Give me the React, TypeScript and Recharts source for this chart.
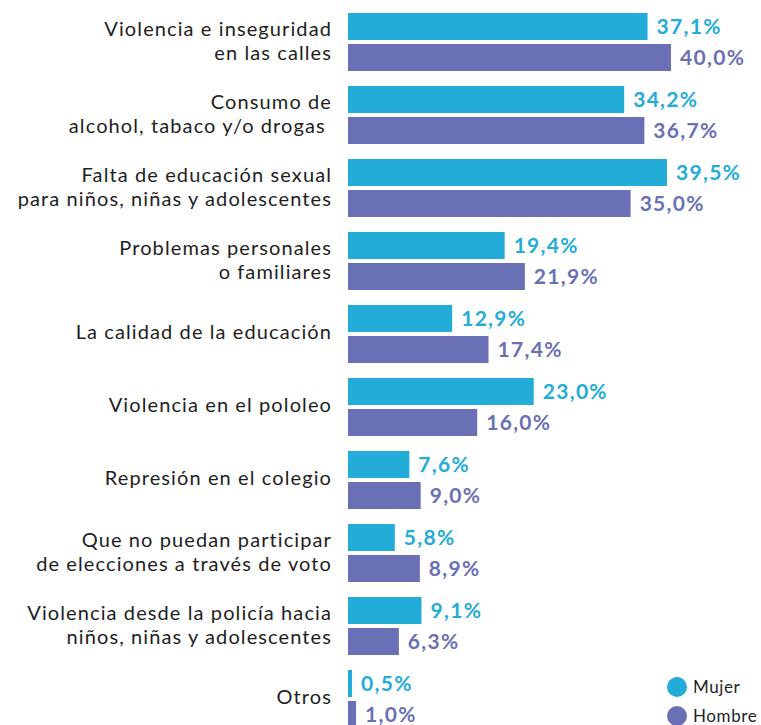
import React from 'react';
import { BarChart, Bar, XAxis, YAxis, LabelList } from 'recharts';

const categories: string[] = [
  'Violencia e inseguridad\nen las calles',
  'Consumo de\nalcohol, tabaco y/o drogas ',
  'Falta de educación sexual\npara niños, niñas y adolescentes',
  'Problemas personales\no familiares',
  'La calidad de la educación',
  'Violencia en el pololeo',
  'Represión en el colegio',
  'Que no puedan participar\nde elecciones a través de voto',
  'Violencia desde la policía hacia\nniños, niñas y adolescentes',
  'Otros',
];

const mujer: number[] = [37.1, 34.2, 39.5, 19.4, 12.9, 23.0, 7.6, 5.8, 9.1, 0.5];
const hombre: number[] = [40.0, 36.7, 35.0, 21.9, 17.4, 16.0, 9.0, 8.9, 6.3, 1.0];

const seriesNames = ['Mujer', 'Hombre'];
const COLOR_MUJER = '#23ACD7';
const COLOR_HOMBRE = '#6A70B5';
const FONT = 'Lato, "Open Sans", sans-serif';

const data = categories.map((name, i) => ({ name, mujer: mujer[i], hombre: hombre[i] }));

const fmt = (v: any) => `${Number(v).toFixed(1).replace('.', ',')}%`;

const CategoryTick = (props: any) => {
  const { y, payload } = props;
  const lines = String(payload.value).split('\n');
  const x = 332;
  const common = {
    textAnchor: 'end' as const,
    fontSize: 20,
    fill: '#1e1e1e',
    fontFamily: FONT,
    letterSpacing: 1.1,
    style: { whiteSpace: 'pre' as const },
  };
  if (lines.length === 1) {
    return (
      <text x={x} y={y + 5} {...common}>
        {lines[0]}
      </text>
    );
  }
  return (
    <text {...common}>
      <tspan x={x} y={y - 6}>{lines[0]}</tspan>
      <tspan x={x} y={y + 18}>{lines[1]}</tspan>
    </text>
  );
};

export default function App() {
  return (
    <div style={{ position: 'fixed', left: 0, top: 0, width: 761, height: 725, overflow: 'hidden', background: '#fff' }}>
      <BarChart
        width={761}
        height={735}
        data={data}
        layout="vertical"
        margin={{ top: 5, right: 90, bottom: 0, left: 0 }}
        barSize={27}
        barGap={4}
      >
        <XAxis type="number" domain={[0, 40]} hide />
        <YAxis
          type="category"
          dataKey="name"
          width={348}
          axisLine={false}
          tickLine={false}
          tick={<CategoryTick />}
          interval={0}
        />
        <Bar dataKey="mujer" name={seriesNames[0]} fill={COLOR_MUJER} isAnimationActive={false}>
          <LabelList
            dataKey="mujer"
            position="right"
            offset={9}
            formatter={fmt}
            fill={COLOR_MUJER}
            fontSize={21}
            fontWeight={700}
            fontFamily={FONT}
            letterSpacing={1.3}
          />
        </Bar>
        <Bar dataKey="hombre" name={seriesNames[1]} fill={COLOR_HOMBRE} isAnimationActive={false}>
          <LabelList
            dataKey="hombre"
            position="right"
            offset={9}
            formatter={fmt}
            fill={COLOR_HOMBRE}
            fontSize={21}
            fontWeight={700}
            fontFamily={FONT}
            letterSpacing={1.3}
          />
        </Bar>
      </BarChart>
      {[COLOR_MUJER, COLOR_HOMBRE].map((c, i) => (
        <div
          key={seriesNames[i]}
          style={{
            position: 'absolute',
            left: 667,
            top: 676 + i * 29,
            display: 'flex',
            alignItems: 'center',
            fontFamily: FONT,
            fontSize: 17,
            color: '#1e1e1e',
            letterSpacing: 0.6,
            whiteSpace: 'nowrap',
          }}
        >
          <span style={{ width: 20, height: 20, borderRadius: 10, background: c, display: 'inline-block', marginRight: 6 }} />
          <span>{seriesNames[i]}</span>
        </div>
      ))}
    </div>
  );
}
